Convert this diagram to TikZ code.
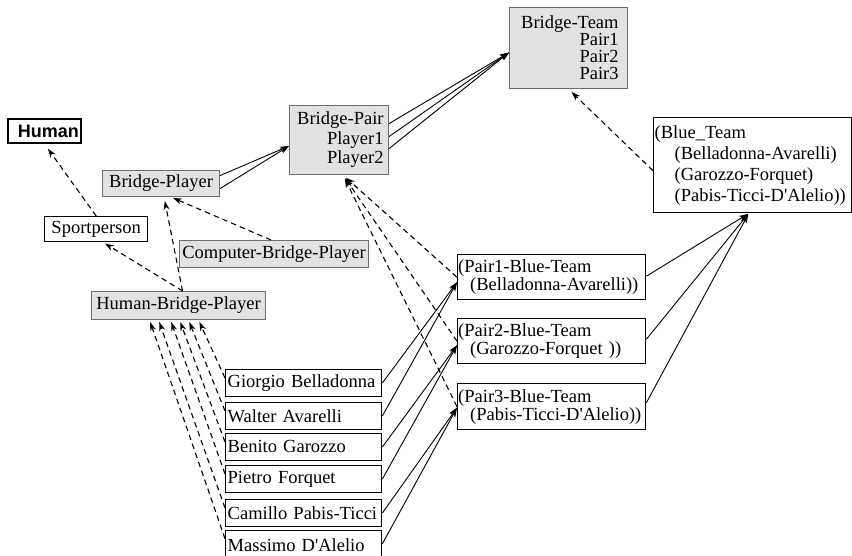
\documentclass[tikz,border=0pt]{standalone}
\usepackage{fontspec}
\setmainfont{Liberation Serif}
\newfontfamily\humfont{Liberation Sans}
\usetikzlibrary{arrows.meta}
\definecolor{boxgray}{HTML}{E2E2E2}
\definecolor{bordergray}{HTML}{6E6E6E}
\newcommand{\apos}{\textquotesingle}
\begin{document}
\begin{tikzpicture}[x=1pt,y=-1pt,
  box/.style={draw, inner xsep=2pt, inner ysep=0pt, anchor=north west,
              font=\fontsize{18.5}{19}\selectfont},
  gbox/.style={box, fill=boxgray, draw=bordergray, line width=1.1pt},
  wbox/.style={box, fill=white, draw=black, line width=1.4pt},
  pbox/.style={wbox, minimum width=156pt, minimum height=26.5pt, text width=152pt, align=left},
  pairbox/.style={wbox, minimum width=188pt, minimum height=45pt, text width=187pt, inner xsep=0.5pt,
                  align=left, font=\fontsize{18.5}{16.5}\selectfont},
  depline/.style={line width=1.1pt, dash pattern=on 5.5pt off 4pt, -{Stealth[length=9pt,width=6pt]}},
  solline/.style={line width=0.9pt, -{Stealth[length=9pt,width=6pt]}}]
\useasboundingbox (0,0) rectangle (852,555);
\clip (0,0) rectangle (852,555);
\fill[white] (0,0) rectangle (852,555);

% nodes
\node[wbox, line width=1.8pt, minimum width=73pt, minimum height=24pt, text width=69pt, align=right,
      font=\humfont\bfseries\fontsize{18}{19}\selectfont] (hum) at (7,118) {Human};
\node[wbox, minimum width=103pt, minimum height=25pt, text width=99pt, align=center] (sp) at (44,216) {Sportperson};
\node[gbox, minimum width=117pt, minimum height=26pt, text width=113pt, align=center] (bp) at (102,170) {Bridge-Player};
\node[gbox, minimum width=189pt, minimum height=27pt, text width=185pt, align=center] (comp) at (179,240) {Computer-Bridge-Player};
\node[gbox, minimum width=174pt, minimum height=28pt, text width=170pt, align=center] (hbp) at (91,291) {Human-Bridge-Player};
\node[gbox, minimum width=99pt, minimum height=69pt, text width=89pt, inner xsep=5pt, align=right,
      font=\fontsize{18.5}{19.5}\selectfont] (bpair) at (289,105) {Bridge-Pair\\Player1\\Player2};
\node[gbox, minimum width=118pt, minimum height=81pt, text width=100pt, inner xsep=9pt, align=right,
      font=\fontsize{18.5}{17}\selectfont] (bteam) at (509,7) {Bridge-Team\\Pair1\\Pair2\\Pair3};
\node[wbox, minimum width=198pt, minimum height=95pt, text width=196pt, inner xsep=1pt, align=left,
      font=\fontsize{18.5}{21}\selectfont] (blue) at (653,117)
  {(Blue\_Team\\\hspace*{20pt}(Belladonna-Avarelli)\\\hspace*{20pt}(Garozzo-Forquet)\\\hspace*{20pt}(Pabis-Ticci-D\apos Alelio))};
\node[pairbox] (p1) at (457,254) {(Pair1-Blue-Team\\\hspace*{12pt}(Belladonna-Avarelli))};
\node[pairbox] (p2) at (457,318) {(Pair2-Blue-Team\\\hspace*{12pt}(Garozzo-Forquet ))};
\node[pairbox, minimum height=46pt] (p3) at (457,383) {(Pair3-Blue-Team\\\hspace*{12pt}(Pabis-Ticci-D\apos Alelio))};

\node[pbox] (g1) at (225,369) {Giorgio Belladonna};
\node[pbox] (g2) at (225,402) {Walter Avarelli};
\node[pbox] (g3) at (225,433) {Benito Garozzo};
\node[pbox] (g4) at (225,465) {Pietro Forquet};
\node[pbox] (g5) at (225,499) {Camillo Pabis-Ticci};
\node[pbox, minimum height=28pt] (g6) at (225,530) {Massimo D\apos Alelio};

% dashed (is-a / instance-of) links
\draw[depline, shorten >=6pt] (sp.north) -- (hum.south);
\draw[depline, shorten >=2pt] ([xshift=4pt]hbp.north) -- ([xshift=7pt]sp.south);
\draw[depline, shorten >=4pt] ([xshift=4pt]hbp.north) -- ([xshift=3pt]bp.south);
\draw[depline, shorten >=2pt] ([xshift=-3pt]comp.north) -- ([xshift=10pt]bp.south);
\draw[depline, shorten >=4pt] (p1.west) -- ([xshift=4pt]bpair.south);
\draw[depline, shorten >=4pt] (p2.west) -- ([xshift=4pt]bpair.south);
\draw[depline, shorten >=4pt] (p3.west) -- ([xshift=4pt]bpair.south);
\draw[depline, shorten >=4pt] ([yshift=-5.5pt]blue.west) -- (bteam.south);
\draw[depline, shorten >=2pt] ([yshift=5pt]g1.west) -- ([xshift=20pt]hbp.south);
\draw[depline, shorten >=2pt] ([yshift=5pt]g2.west) -- ([xshift=10pt]hbp.south);
\draw[depline, shorten >=2pt] ([yshift=5pt]g3.west) -- ([xshift=1pt]hbp.south);
\draw[depline, shorten >=2pt] ([yshift=5pt]g4.west) -- ([xshift=-8pt]hbp.south);
\draw[depline, shorten >=2pt] ([yshift=5pt]g5.west) -- ([xshift=-20pt]hbp.south);
\draw[depline, shorten >=2pt] ([yshift=6pt]g6.west) -- ([xshift=-29pt]hbp.south);

% solid (part-of) links
\draw[solline] ([yshift=8pt]bp.east) -- ([yshift=-6pt]bpair.west);
\draw[solline] ([yshift=-5pt]bp.east) -- ([yshift=-6pt]bpair.west);
\draw[solline] ([yshift=16.5pt]bpair.east) -- ([yshift=-4.5pt]bteam.west);
\draw[solline] ([yshift=3.5pt]bpair.east) -- ([yshift=-4.5pt]bteam.west);
\draw[solline] ([yshift=-8.5pt]bpair.east) -- ([yshift=-4.5pt]bteam.west);
\draw[solline, shorten >=1pt] ([yshift=1pt]p1.east) -- ([xshift=-4pt]blue.south);
\draw[solline, shorten >=1pt] ([yshift=2pt]p2.east) -- ([xshift=-4pt]blue.south);
\draw[solline, shorten >=1pt] ([yshift=4pt]p3.east) -- ([xshift=-4pt]blue.south);
\draw[solline] (g1.east) -- ([yshift=-5pt]p1.west);
\draw[solline] (g2.east) -- ([yshift=-5pt]p1.west);
\draw[solline] (g3.east) -- ([yshift=-4pt]p2.west);
\draw[solline] (g4.east) -- ([yshift=-4pt]p2.west);
\draw[solline] (g5.east) -- ([yshift=-1pt]p3.west);
\draw[solline] ([yshift=1pt]g6.east) -- ([yshift=-1pt]p3.west);
\end{tikzpicture}
\end{document}
